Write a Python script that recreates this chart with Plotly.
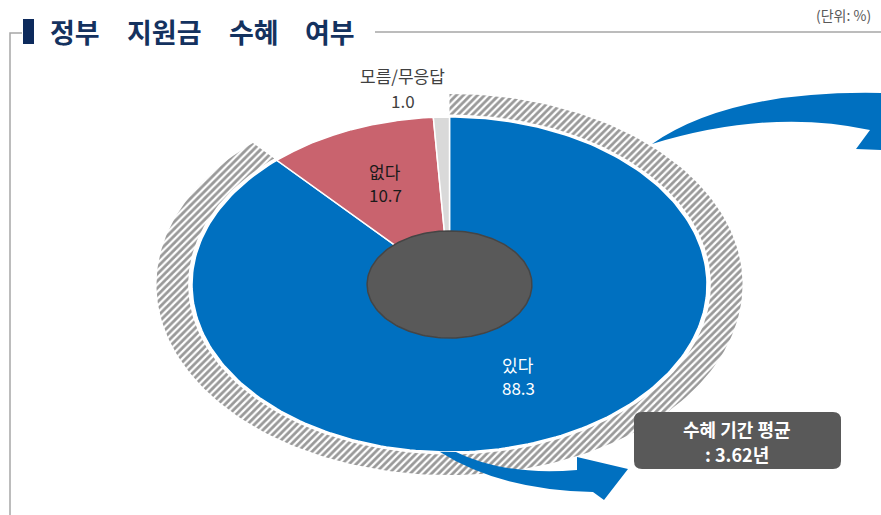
import numpy as np
import plotly.graph_objects as go

# 데이터
categories = ['있다', '없다', '모름/무응답']
values = [88.3, 10.7, 1.0]
slice_colors = ['#0070C0', '#C9636E', '#D9D9D9']
label_colors = ['white', '#1A1A1A', '#404040']
title_words = ['정부', '지원금', '수혜', '여부']
avg_period = 3.62

FONT = 'Noto Sans CJK KR'
W, H = 881, 515

# 파이 위치 (픽셀 좌표, 가로로 늘어난 타원)
cx, cy = 449.5, 284.5
rx, ry = 257.5, 167.5


def ellipse_pt(r, ang):
    # ang: 12시 방향에서 시계방향 (도)
    a = np.radians(ang)
    return cx + rx * r * np.sin(a), cy - ry * r * np.cos(a)


def wedge(r0, r1, a0, a1, n=240):
    t = np.linspace(a0, a1, n)
    xo, yo = ellipse_pt(r1, t)
    if r0 == 0:
        xs = np.concatenate([[cx], xo, [cx]])
        ys = np.concatenate([[cy], yo, [cy]])
    else:
        xi, yi = ellipse_pt(r0, t[::-1])
        xs = np.concatenate([xo, xi, xo[:1]])
        ys = np.concatenate([yo, yi, yo[:1]])
    return xs, ys


total = sum(values)
bounds = np.concatenate([[0], np.cumsum(values) / total * 360])

fig = go.Figure()

# '있다' 강조 빗금 링
hx, hy = wedge(1.015, 1.138, bounds[0], bounds[1])
fig.add_trace(go.Scatter(
    x=hx, y=hy, mode='lines', fill='toself',
    line=dict(width=0, color='rgba(0,0,0,0)'),
    fillcolor='white',
    fillpattern=dict(shape='/', fgcolor='#333333', bgcolor='white',
                     size=5, solidity=0.55),
    hoverinfo='skip', showlegend=False
))

# 파이 조각
for i, cat in enumerate(categories):
    xs, ys = wedge(0, 1.0, bounds[i], bounds[i + 1])
    fig.add_trace(go.Scatter(
        x=xs, y=ys, mode='lines', fill='toself',
        fillcolor=slice_colors[i],
        line=dict(color='white', width=1.5),
        name=cat, hoverinfo='name', showlegend=False
    ))

# 가운데 원
ex, ey = ellipse_pt(0.32, np.linspace(0, 360, 200))
fig.add_trace(go.Scatter(
    x=ex, y=ey, mode='lines', fill='toself',
    fillcolor='#595959', line=dict(color='#454545', width=1.5),
    hoverinfo='skip', showlegend=False
))

annotations = []


def label(x, y, text, size, color, bold=False, **kw):
    if bold:
        text = f'<b>{text}</b>'
    annotations.append(dict(
        x=x, y=y, xref='x', yref='y', showarrow=False, text=text,
        font=dict(family=FONT, size=size, color=color), **kw
    ))


# 조각 라벨 (두 줄은 따로 배치)
label_r = [0.58, 0.66]
label_dx = [15, 2]
for i in range(2):
    mid = (bounds[i] + bounds[i + 1]) / 2
    lx, ly = ellipse_pt(label_r[i], mid)
    label(lx + label_dx[i], ly - 11, categories[i], 17, label_colors[i])
    label(lx + label_dx[i], ly + 12, f'{values[i]:.1f}', 17, label_colors[i])
label(cx - 47, 75, categories[2], 17, label_colors[2])
label(cx - 47, 100, f'{values[2]:.1f}', 17, label_colors[2])

# 제목, 단위
for word, xc in zip(title_words, [75, 164, 254, 330]):
    label(xc, 31, word, 27, '#14325F', bold=True)
label(873, 15, '(단위: %)', 14, '#595959', xanchor='right')

# 평균 박스 텍스트
label(737, 429, '수혜 기간 평균', 18, 'white', bold=True)
label(737, 454, f': {avg_period:.2f}년', 18, 'white', bold=True)

shapes = [
    # 왼쪽 테두리선과 제목 옆 선
    dict(type='path', path='M 22,33 L 10,33 L 10,515',
         line=dict(color='#A6A6A6', width=1.5)),
    dict(type='line', x0=375, x1=881, y0=32, y1=32,
         line=dict(color='#A6A6A6', width=1.5)),
    dict(type='rect', x0=23, x1=34, y0=19, y1=44,
         fillcolor='#0D2A5C', line=dict(width=0)),
    # 위쪽 화살표
    dict(type='path', layer='above',
         path='M 652,144 Q 730,90 881,93 L 881,150 L 856,149 L 870,130 '
              'Q 770,108 652,144 Z',
         fillcolor='#0070C0', line=dict(width=0)),
    # 아래쪽 화살표
    dict(type='path', layer='above',
         path='M 440,452 L 456,452 Q 505,476 577,470 L 577,457 L 628,469 '
              'L 604,500 L 593,492 Q 500,490 440,452 Z',
         fillcolor='#0070C0', line=dict(width=0)),
    # 평균 박스
    dict(type='path', layer='above',
         path='M 642,412 L 833,412 Q 841,412 841,420 L 841,461 '
              'Q 841,469 833,469 L 642,469 Q 634,469 634,461 L 634,420 '
              'Q 634,412 642,412 Z',
         fillcolor='#595959', line=dict(width=0)),
]

fig.update_layout(
    width=W, height=H, autosize=False,
    margin=dict(l=0, r=0, t=0, b=0),
    paper_bgcolor='white', plot_bgcolor='white',
    xaxis=dict(range=[0, W], visible=False, fixedrange=True),
    yaxis=dict(range=[H, 0], visible=False, fixedrange=True),
    annotations=annotations,
    shapes=shapes,
    showlegend=False
)

fig.write_html('out.html', config={'displayModeBar': False},
               post_script="document.body.style.margin='0';")
